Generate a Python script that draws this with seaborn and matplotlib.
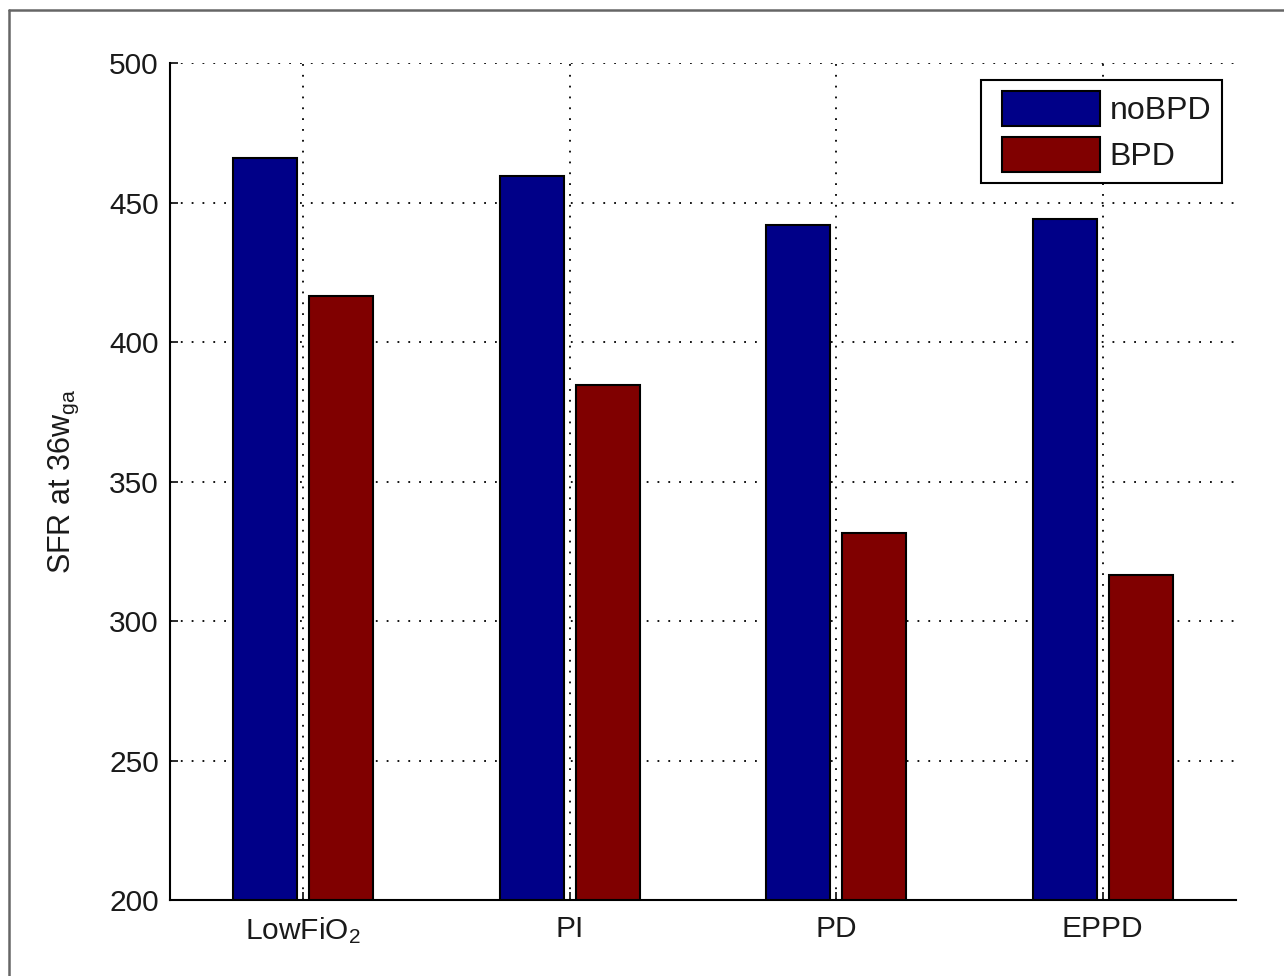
import matplotlib
matplotlib.use("Agg")
import matplotlib.pyplot as plt
import seaborn as sns
import pandas as pd
from matplotlib.lines import Line2D
from matplotlib.patches import Rectangle
from matplotlib.legend_handler import HandlerPatch

categories = ["LowFiO$_2$", "PI", "PD", "EPPD"]
groups = ["noBPD", "BPD"]
nobpd_values = [466, 459.5, 442, 444]
bpd_values = [416.5, 384.5, 331.5, 316.5]

rows = []
for c, a, b in zip(categories, nobpd_values, bpd_values):
    rows.append({"cat": c, "group": "noBPD", "val": a})
    rows.append({"cat": c, "group": "BPD", "val": b})
df = pd.DataFrame(rows)

sns.set_style("white")
plt.rcParams['font.family'] = ['Liberation Sans', 'DejaVu Sans']
plt.rcParams['mathtext.fontset'] = 'custom'
plt.rcParams['mathtext.rm'] = 'Liberation Sans'
plt.rcParams['mathtext.it'] = 'Liberation Sans'

FS = 21.5
LFS = 23
fig = plt.figure(figsize=(12.84, 9.76), dpi=100)
fig.patch.set_facecolor("white")
ax = fig.add_axes([170/1284, 76/976, 1066/1284, 837/976])

palette = {"noBPD": "#000088", "BPD": "#800000"}
sns.barplot(data=df, x="cat", y="val", hue="group", hue_order=groups,
            order=categories, palette=palette, width=0.57, gap=0.16,
            edgecolor="black", linewidth=1.5, saturation=1, ax=ax, errorbar=None)

ax.set_ylim(200, 500)
ax.set_xlim(-0.5, 3.5)
ax.set_yticks([200, 250, 300, 350, 400, 450, 500])
ax.set_axisbelow(True)
ax.grid(True, linestyle=(0, (1, 5)), color="black", linewidth=1.3)
for s in ["top", "right"]:
    ax.spines[s].set_visible(False)
for s in ["left", "bottom"]:
    ax.spines[s].set_color("black")
    ax.spines[s].set_linewidth(1.5)
ax.tick_params(axis="both", direction="in", length=6, width=1.3, labelsize=FS,
               colors="#1a1a1a", left=True, bottom=True)
ax.tick_params(axis="y", pad=8)
ax.tick_params(axis="x", pad=11)
ax.set_xlabel("")
ax.set_ylabel("SFR at 36w$_{\\mathrm{ga}}$", fontsize=FS + 0.5, labelpad=20, color="#1a1a1a")


def inset_rect(legend, orig_handle, xdescent, ydescent, width, height, fontsize):
    off = 10 * 72 / 100.0  # points
    return Rectangle((-xdescent + off, -ydescent), width - off, height)


leg = ax.legend(loc="upper right", bbox_to_anchor=((1222 - 170) / 1066, (900 - 80) / 837),
                borderaxespad=0, fontsize=LFS, handlelength=3.38, handleheight=1.31,
                labelspacing=0.36, handletextpad=0.31, borderpad=0.33,
                fancybox=False, framealpha=1, edgecolor="black", title=None,
                handler_map={Rectangle: HandlerPatch(patch_func=inset_rect)})
leg.get_frame().set_linewidth(1.5)
for t in leg.get_texts():
    t.set_color("#1a1a1a")

fig.add_artist(Line2D([9/1284, 1.0], [1 - 10/976, 1 - 10/976], color="#666666", lw=1.8))
fig.add_artist(Line2D([9/1284, 9/1284], [0, 1 - 10/976], color="#666666", lw=1.8))

fig.savefig("out.png", dpi=100, facecolor="white")
